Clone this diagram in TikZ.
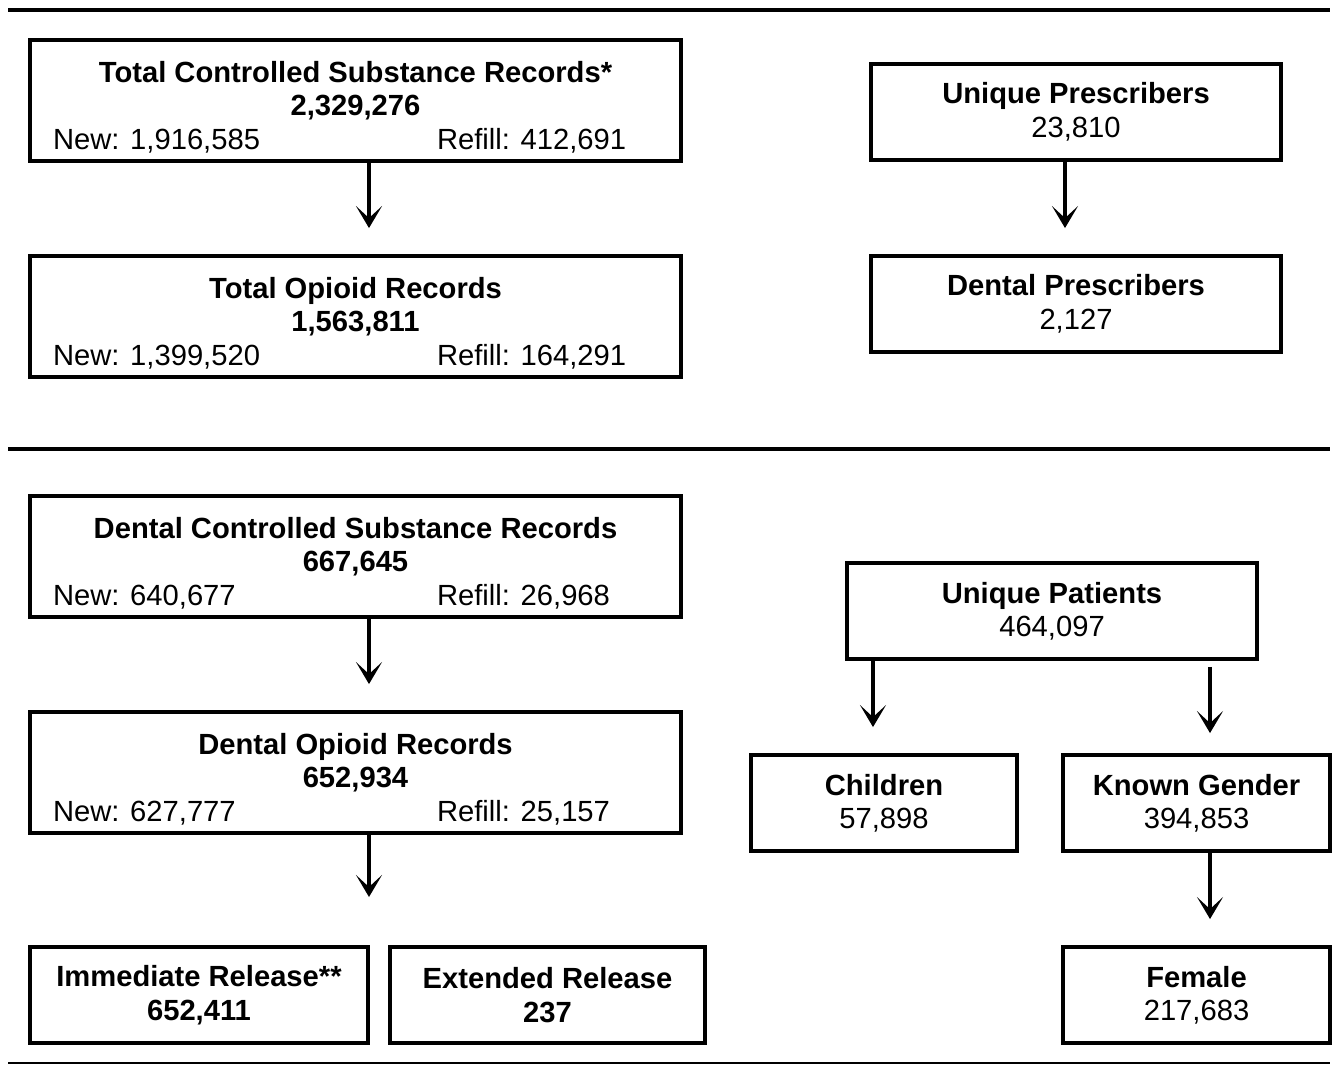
\documentclass[tikz,border=0pt]{standalone}
\usepackage{fontspec}
\setmainfont{Liberation Sans}
\usetikzlibrary{arrows.meta}

\newcommand{\recsplit}[2]{\makebox[3.84cm][l]{New: #1}\makebox[2.21cm][l]{Refill: #2}}
\newcommand{\toppad}{\rule{0pt}{0.345cm}}

\begin{document}
\begin{tikzpicture}
        [every node/.style={font=\fontsize{8.3}{9.5}\selectfont},
        widebox/.style={draw, line width=1.1pt, minimum width=6.51cm, minimum height=1.21cm, align=center, inner sep=0pt},
        smallbox/.style={draw, line width=1.1pt, minimum height=0.96cm, align=center, inner sep=0pt},
        rule/.style={line width=1.15pt},
        arr/.style={-{Stealth[length=2.2mm, width=2.6mm, inset=1.2mm]}, line width=1.1pt, shorten >=2.6mm}]

    \useasboundingbox (0,0) rectangle (13.37,-10.66);

    \draw[rule] (0.08,-0.10) -- (13.30,-0.10);
    \draw[rule] (0.08,-4.49) -- (13.30,-4.49);
    \draw[line width=0.5pt] (0.08,-10.63) -- (13.30,-10.63);

    \node[widebox] (tc) at (3.555,-1.005)
      {\toppad\textbf{Total Controlled Substance Records*}\\ \textbf{2,329,276}\\ \recsplit{1,916,585}{412,691}};
    \node[widebox] (to) at (3.555,-3.165)
      {\toppad\textbf{Total Opioid Records}\\ \textbf{1,563,811}\\ \recsplit{1,399,520}{164,291}};
    \node[smallbox, minimum width=4.1cm] (up) at (10.76,-1.12) {\textbf{Unique Prescribers}\\ 23,810};
    \node[smallbox, minimum width=4.1cm] (dp) at (10.76,-3.04) {\textbf{Dental Prescribers}\\ 2,127};

    \node[widebox] (dc) at (3.555,-5.565)
      {\toppad\textbf{Dental Controlled Substance Records}\\ \textbf{667,645}\\ \recsplit{640,677}{26,968}};
    \node[widebox] (do) at (3.555,-7.725)
      {\toppad\textbf{Dental Opioid Records}\\ \textbf{652,934}\\ \recsplit{627,777}{25,157}};
    \node[smallbox, minimum width=3.38cm] (ir) at (1.99,-9.95) {\textbf{Immediate Release**}\\ \textbf{652,411}};
    \node[smallbox, minimum width=3.15cm] (er) at (5.475,-9.95) {\textbf{Extended Release}\\ \textbf{237}};
    \coordinate (relfork) at (3.69,-8.97);

    \node[smallbox, minimum width=4.1cm] (pat) at (10.52,-6.11) {\textbf{Unique Patients}\\ 464,097};
    \node[smallbox, minimum width=2.66cm] (ch) at (8.84,-8.03) {\textbf{Children}\\ 57,898};
    \node[smallbox, minimum width=2.67cm] (kg) at (11.965,-8.03) {\textbf{Known Gender}\\ 394,853};
    \node[smallbox, minimum width=2.67cm] (fe) at (11.965,-9.95) {\textbf{Female}\\ 217,683};

    \draw[arr] ([xshift=1.35mm]tc.south) -- ([xshift=1.35mm]to.north);
    \draw[arr] ([xshift=-1.1mm]up.south) -- ([xshift=-1.1mm]dp.north);
    \draw[arr] ([xshift=1.35mm]dc.south) -- ([xshift=1.35mm]do.north);
    \draw[arr, shorten >=0pt] ([xshift=1.35mm]do.south) -- (relfork);
    \draw[arr] ([xshift=-1.1mm]ch.north |- pat.south) -- ([xshift=-1.1mm]ch.north);
    \draw[arr, shorten <=0.6mm, shorten >=2mm] ([xshift=1.35mm]kg.north |- pat.south) -- ([xshift=1.35mm]kg.north);
    \draw[arr] ([xshift=1.35mm]kg.south) -- ([xshift=1.35mm]fe.north);
\end{tikzpicture}
\end{document}
